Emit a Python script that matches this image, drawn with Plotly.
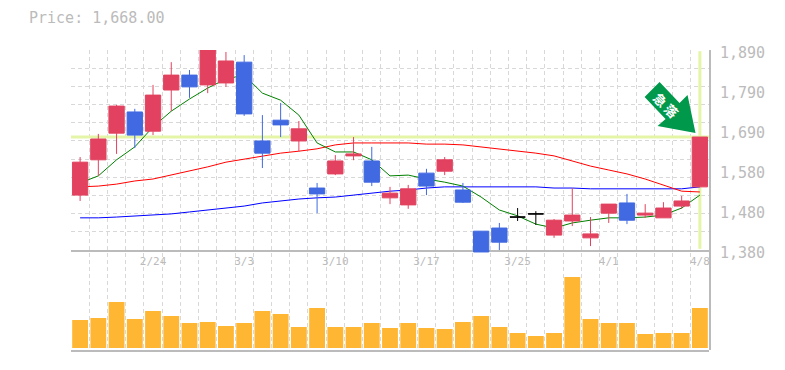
import plotly.graph_objects as go

dates = ["2/24", "3/3", "3/10", "3/17", "3/25", "4/1", "4/8"]
date_index = [4, 9, 14, 19, 24, 29, 34]
idx = list(range(35))

# candle prices
high = [1617, 1676, 1750, 1740, 1801, 1859, 1839, 1890, 1885, 1877, 1724, 1755, 1709, 1551, 1622, 1668, 1643, 1541, 1546, 1587, 1617, 1551, 1428, 1449, 1487, 1479, 1459, 1538, 1464, 1497, 1523, 1497, 1502, 1518, 1668]
open_ = [1520, 1610, 1678, 1732, 1683, 1788, 1826, 1801, 1806, 1859, 1658, 1711, 1658, 1538, 1574, 1620, 1607, 1513, 1495, 1576, 1581, 1533, 1428, 1436, 1464, 1472, 1418, 1454, 1411, 1474, 1500, 1469, 1462, 1492, 1541]
close = [1604, 1663, 1747, 1673, 1775, 1826, 1796, 1890, 1862, 1727, 1627, 1699, 1689, 1523, 1607, 1625, 1553, 1525, 1536, 1543, 1610, 1502, 1375, 1400, 1464, 1472, 1456, 1469, 1421, 1497, 1456, 1474, 1487, 1505, 1668]
low = [1505, 1569, 1625, 1640, 1673, 1734, 1768, 1780, 1796, 1722, 1589, 1668, 1632, 1474, 1571, 1609, 1543, 1497, 1485, 1520, 1571, 1500, 1375, 1380, 1454, 1444, 1411, 1441, 1390, 1449, 1446, 1462, 1462, 1485, 1541]
doji = [24, 25]

ma_short = [1551, 1569, 1610, 1643, 1694, 1734, 1765, 1793, 1816, 1826, 1780, 1762, 1724, 1653, 1630, 1630, 1610, 1569, 1571, 1561, 1553, 1543, 1515, 1482, 1467, 1446, 1436, 1449, 1456, 1462, 1462, 1464, 1469, 1487, 1520]
ma_mid = [1541, 1543, 1548, 1556, 1561, 1571, 1581, 1592, 1604, 1612, 1620, 1627, 1632, 1638, 1648, 1653, 1653, 1653, 1653, 1650, 1650, 1648, 1643, 1638, 1632, 1627, 1620, 1607, 1594, 1584, 1574, 1561, 1546, 1530, 1528]
ma_long = [1462, 1462, 1464, 1467, 1469, 1472, 1477, 1482, 1487, 1492, 1500, 1505, 1510, 1513, 1515, 1520, 1525, 1530, 1533, 1538, 1541, 1541, 1541, 1541, 1541, 1541, 1538, 1538, 1536, 1536, 1536, 1536, 1536, 1536, 1541]

volume = [28, 30, 46, 29, 37, 32, 25, 26, 22, 25, 37, 34, 21, 40, 21, 21, 25, 20, 25, 20, 19, 26, 32, 21, 15, 12, 15, 71, 29, 25, 25, 14, 15, 15, 40]

price_ticks = [1890, 1788, 1686, 1584, 1482, 1380]
price_labels = ["1,890", "1,790", "1,690", "1,580", "1,480", "1,380"]
last_price = 1668
title_text = "Price: 1,668.00"
arrow_text = "\u6025\u2009\u843d"

# layout geometry
W, H = 785, 370
L, R, T, B = 70.5, 709.5, 50, 350
PH = B - T
PRICE_BOTTOM = 250
P_MIN, P_MAX = 1380, 1890
PX = (P_MAX - P_MIN) / (PRICE_BOTTOM - T)
dom = lambda py: (B - py) / PH

GRID = "#d8d8d8"
AXIS = "#bbbbbb"
TXT = "#bbbbbb"
RED = "#e2425f"
BLUE = "#4169e1"
BAND = "#e4f5a8"
MONO = "DejaVu Sans Mono"

fig = go.Figure()

# grid host (full height)
fig.add_trace(go.Scatter(x=[0], y=[0], xaxis="x", yaxis="y", mode="none", showlegend=False, hoverinfo="skip"))

# highlight band + moving averages
fig.add_trace(go.Scatter(x=[-0.5, 34.5], y=[last_price, last_price], xaxis="x2", yaxis="y2", mode="lines",
                         line=dict(color=BAND, width=3), showlegend=False))
fig.add_trace(go.Scatter(x=[34, 34], y=[P_MIN + 3, P_MAX - 3], xaxis="x2", yaxis="y2", mode="lines",
                         line=dict(color=BAND, width=3), showlegend=False))
for vals, col in ((ma_long, "#0000ff"), (ma_mid, "#ff0000"), (ma_short, "#008000")):
    fig.add_trace(go.Scatter(x=idx, y=vals, xaxis="x2", yaxis="y2", mode="lines",
                             line=dict(color=col, width=1), showlegend=False))

# volume
fig.add_trace(go.Bar(x=idx, y=volume, xaxis="x3", yaxis="y3", marker=dict(color="#ffb733", line_width=0),
                     width=0.87, showlegend=False))

# candles
nd = [i for i in idx if i not in doji]
fig.add_trace(go.Candlestick(
    x=nd, open=[open_[i] for i in nd], high=[high[i] for i in nd],
    low=[low[i] for i in nd], close=[close[i] for i in nd], xaxis="x2", yaxis="y4",
    increasing=dict(line=dict(color=RED, width=1), fillcolor=RED),
    decreasing=dict(line=dict(color=BLUE, width=1), fillcolor=BLUE),
    whiskerwidth=0, showlegend=False))
fig.add_trace(go.Candlestick(
    x=doji, open=[open_[i] for i in doji], high=[high[i] for i in doji],
    low=[low[i] for i in doji], close=[close[i] for i in doji], xaxis="x2", yaxis="y4",
    increasing=dict(line=dict(color="#000000", width=1), fillcolor="#000000"),
    decreasing=dict(line=dict(color="#000000", width=1), fillcolor="#000000"),
    whiskerwidth=0, showlegend=False))

xr = [-0.5, 34.5]
fig.update_layout(
    width=W, height=H, paper_bgcolor="white", plot_bgcolor="rgba(0,0,0,0)",
    margin=dict(l=L, r=W - R, t=T, b=H - B, pad=0), autosize=False, showlegend=False,
    boxmode="overlay", boxgap=0.16, boxgroupgap=0,
    font=dict(family=MONO, color=TXT),
    xaxis=dict(range=xr, anchor="y", tick0=-0.5, dtick=1, showgrid=True, gridcolor=GRID, griddash="4px,3px", gridwidth=1,
               showticklabels=False, zeroline=False, ticks="", rangeslider=dict(visible=False)),
    xaxis2=dict(matches="x", anchor="y2", showgrid=False, tickmode="array", tickvals=date_index, ticktext=dates,
                tickfont=dict(size=11, color=TXT, family=MONO), showline=True, linecolor=AXIS, linewidth=2, ticks="",
                zeroline=False, rangeslider=dict(visible=False)),
    xaxis3=dict(matches="x", anchor="y3", showgrid=False, showticklabels=False, showline=True, linecolor=AXIS, linewidth=2,
                ticks="", zeroline=False),
    yaxis=dict(domain=[0, 1], range=[0, 1], anchor="x", side="right", showgrid=False, showticklabels=False, zeroline=False,
               showline=True, linecolor=AXIS, linewidth=2, ticks=""),
    yaxis2=dict(domain=[dom(PRICE_BOTTOM), 1], range=[P_MIN, P_MAX], anchor="x2", tick0=P_MIN, dtick=(P_MAX - P_MIN) / 11,
                showgrid=True, gridcolor=GRID, griddash="4px,3px", gridwidth=1, showticklabels=False, zeroline=False, ticks=""),
    yaxis3=dict(domain=[0, dom(PRICE_BOTTOM + 10)], range=[-2, 88], anchor="x3", showgrid=False, showticklabels=False,
                zeroline=False, ticks=""),
    yaxis4=dict(domain=[dom(PRICE_BOTTOM + 3), 1], range=[P_MIN - 3 * PX, P_MAX], anchor="x2", showgrid=False,
                showticklabels=False, zeroline=False, ticks=""),
    yaxis5=dict(domain=[dom(PRICE_BOTTOM + 8), 1], anchor="x2", side="right", range=[P_MIN - 5 * PX, P_MAX + 3 * PX],
                tickmode="array", tickvals=price_ticks, ticktext=price_labels,
                tickfont=dict(size=15, color=TXT, family=MONO), showgrid=False, zeroline=False,
                ticks="outside", ticklen=7, tickcolor="rgba(0,0,0,0)"),
)
# dummy trace so the label axis exists
fig.add_trace(go.Scatter(x=[0], y=[P_MIN], xaxis="x2", yaxis="y5", mode="none", showlegend=False, hoverinfo="skip"))

px = lambda v: (v - L) / (R - L)
py = lambda v: (B - v) / PH
arrow = [(660, 82), (645, 97), (666, 119), (658, 126), (696, 133), (688, 95), (680, 103)]
path = "M " + " L ".join(f"{px(a):.5f} {py(b):.5f}" for a, b in arrow) + " Z"
fig.add_shape(type="path", path=path, xref="paper", yref="paper", fillcolor="#00984a", line_width=0, layer="above")
fig.add_annotation(x=px(667), y=py(105), xref="paper", yref="paper", text="<b>" + arrow_text + "</b>", textangle=45,
                   xanchor="center", yanchor="middle", showarrow=False,
                   font=dict(size=13, color="#ffffff", family="Noto Sans CJK JP"))
fig.add_annotation(x=px(26), y=py(18), xref="paper", yref="paper", text=title_text, showarrow=False,
                   xanchor="left", yanchor="middle", font=dict(size=15, color=TXT, family=MONO))

fig.write_html("out.html", post_script="document.body.style.margin='0';", config=dict(displayModeBar=False))
